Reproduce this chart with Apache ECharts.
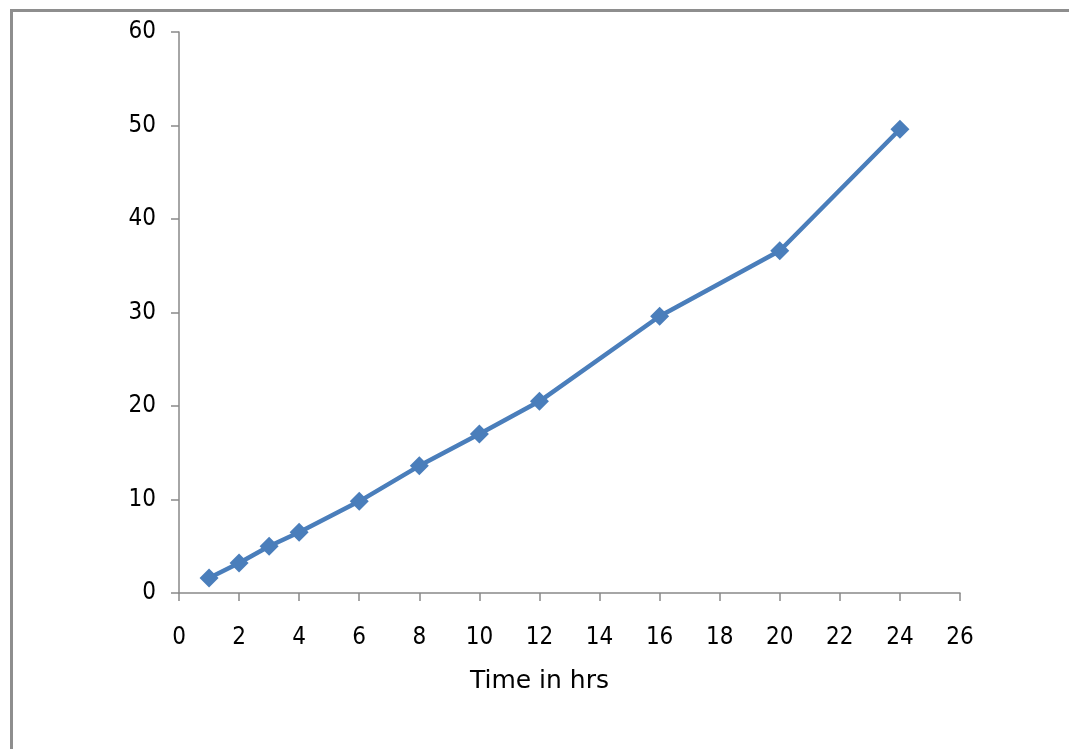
<!DOCTYPE html>
<html>
<head>
<meta charset="utf-8">
<script src="https://cdn.jsdelivr.net/npm/echarts@6/dist/echarts.min.js"></script>
<style>
  html, body { margin: 0; padding: 0; background: #ffffff; }
  #chart { width: 1069px; height: 749px; }
</style>
</head>
<body>
<div id="chart"></div>
<script>
// Measurements over time (hours)
const hours = [1, 2, 3, 4, 6, 8, 10, 12, 16, 20, 24];
const values = [1.6, 3.2, 5.0, 6.5, 9.8, 13.6, 17.0, 20.5, 29.6, 36.6, 49.6];
const xAxisTitle = 'Time in hrs';

const chart = echarts.init(document.getElementById('chart'));
const axisGray = '#898989';
const labelFont = { color: '#000000', fontSize: 24, fontFamily: 'DejaVu Sans Condensed, DejaVu Sans, sans-serif' };
const nameFont = { color: '#000000', fontSize: 25, fontFamily: 'DejaVu Sans, sans-serif' };

chart.setOption({
  animation: false,
  backgroundColor: '#ffffff',
  graphic: [{
    type: 'rect',
    left: 9, top: 8,
    shape: { width: 1100, height: 800 },
    style: { fill: 'none', stroke: '#8e8e8e', lineWidth: 3 },
    silent: true
  }],
  grid: { left: 179, right: 109, top: 32, bottom: 156 },
  xAxis: {
    type: 'value',
    min: 0, max: 26, interval: 2,
    name: xAxisTitle,
    nameLocation: 'middle',
    nameGap: 76,
    nameTextStyle: Object.assign({}, nameFont, { padding: [0, 60, 0, 0] }),
    axisLine: { show: true, lineStyle: { color: axisGray, width: 1.5 } },
    axisTick: { show: true, inside: false, length: 8, lineStyle: { color: axisGray, width: 1.5 } },
    axisLabel: Object.assign({}, labelFont, { margin: 33 }),
    splitLine: { show: false }
  },
  yAxis: {
    type: 'value',
    min: 0, max: 60, interval: 10,
    axisLine: { show: true, lineStyle: { color: axisGray, width: 1.5 } },
    axisTick: { show: true, inside: false, length: 8, lineStyle: { color: axisGray, width: 1.5 } },
    axisLabel: Object.assign({}, labelFont, { margin: 23 }),
    splitLine: { show: false }
  },
  series: [{
    type: 'line',
    data: hours.map((h, i) => [h, values[i]]),
    symbol: 'diamond',
    symbolSize: 19,
    lineStyle: { color: '#4a7ebb', width: 4.5 },
    itemStyle: { color: '#4a7ebb' }
  }]
});
</script>
</body>
</html>
